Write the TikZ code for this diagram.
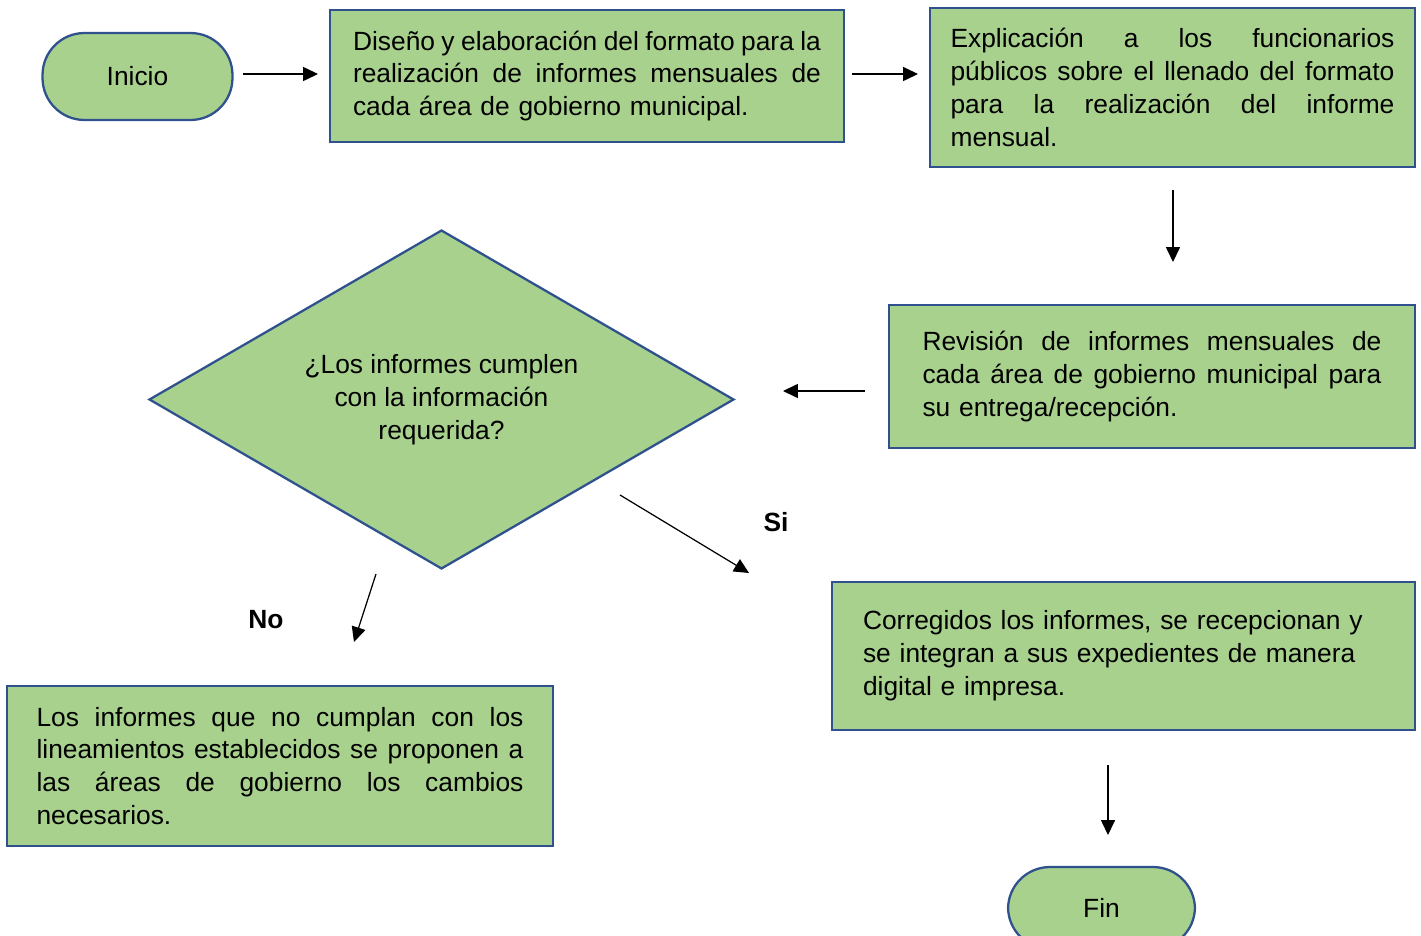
\documentclass[tikz,border=0pt]{standalone}
\usepackage{fontspec}
\setmainfont{Liberation Sans}
\usetikzlibrary{arrows.meta,shapes.geometric}

\definecolor{verde}{HTML}{A9D18E}
\definecolor{azul}{HTML}{2F528F}
\newcommand{\jline}[1]{\leavevmode\hbox to \hsize{\spaceskip=.278em plus 1em minus .12em #1}}

\begin{document}
\begin{tikzpicture}[x=0.02cm,y=-0.02cm,>={Triangle[length=8.5pt,width=8pt]},
	every node/.style={font=\fontsize{15}{18.7}\selectfont},
	box node/.style={rectangle,draw=azul,fill=verde,line width=1.3pt,align=left,inner ysep=0pt},
	end node/.style={box node,rounded corners=0.84cm,minimum width=3.8cm,align=center},
	decision node/.style={diamond,draw=azul,fill=verde,line width=1.3pt,aspect=1.726,inner sep=0pt,minimum width=11.7cm,minimum height=6.78cm,align=center},
	arrow/.style={->,line width=0.7pt}]
			
			\useasboundingbox (0,0) rectangle (1421,936);
			\clip (0,0) rectangle (1421,936);
			
			\node[end node,minimum height=1.74cm] (1) at (137.5,76.5) {Inicio};
			\node[box node,text width=9.36cm,inner xsep=0.46cm,minimum height=2.64cm] (2) at (587,76) {\jline{Diseño y elaboración del formato para la}\\\jline{realización de informes mensuales de}\\cada área de gobierno municipal.};
			\node[box node,text width=8.88cm,inner xsep=0.41cm,minimum height=3.18cm] (3) at (1172.5,87.5) {\jline{Explicación a los funcionarios}\\\jline{públicos sobre el llenado del formato}\\\jline{para la realización del informe}\\mensual.};
			\node[box node,text width=9.18cm,inner xsep=0.67cm,minimum height=2.86cm] (4) at (1152,376.5) {\jline{Revisión de informes mensuales de}\\\jline{cada área de gobierno municipal para}\\su entrega/recepción.};
			\node[decision node] (5) at (441.5,399.5) {¿Los informes cumplen\\con la información\\requerida?};
			\node[box node,text width=9.74cm,inner xsep=0.59cm,minimum height=3.2cm] (6) at (280,766) {\jline{Los informes que no cumplan con los}\\\jline{lineamientos establecidos se proponen a}\\\jline{las áreas de gobierno los cambios}\\necesarios.};
			\node[box node,text width=10.42cm,inner xsep=0.62cm,minimum height=2.96cm] (7) at (1123.5,656) {Corregidos los informes, se recepcionan y\\se integran a sus expedientes de manera\\digital e impresa.};
			\node[end node,minimum width=3.74cm,minimum height=1.64cm] (8) at (1101.5,908) {Fin};
			
			\node[font=\fontsize{15}{18.7}\selectfont\bfseries] (si) at (776,522) {Si};
			\node[font=\fontsize{15}{18.7}\selectfont\bfseries] (no) at (266,620) {No};
			
			\coordinate (1a) at (243,74);   \coordinate (1b) at (318,74);
			\coordinate (2a) at (852,74);   \coordinate (2b) at (918,74);
			\coordinate (3a) at (1173,190); \coordinate (3b) at (1173,262);
			\coordinate (4a) at (865,391);  \coordinate (4b) at (783,391);
			\coordinate (5a) at (620,495);  \coordinate (5b) at (749,573);
			\coordinate (6a) at (376,574);  \coordinate (6b) at (354,642);
			\coordinate (7a) at (1108,765); \coordinate (7b) at (1108,835);
			
			\foreach \i in {1,...,7}
			\draw[arrow] (\i a) -- (\i b);
			\end{tikzpicture}
\end{document}
